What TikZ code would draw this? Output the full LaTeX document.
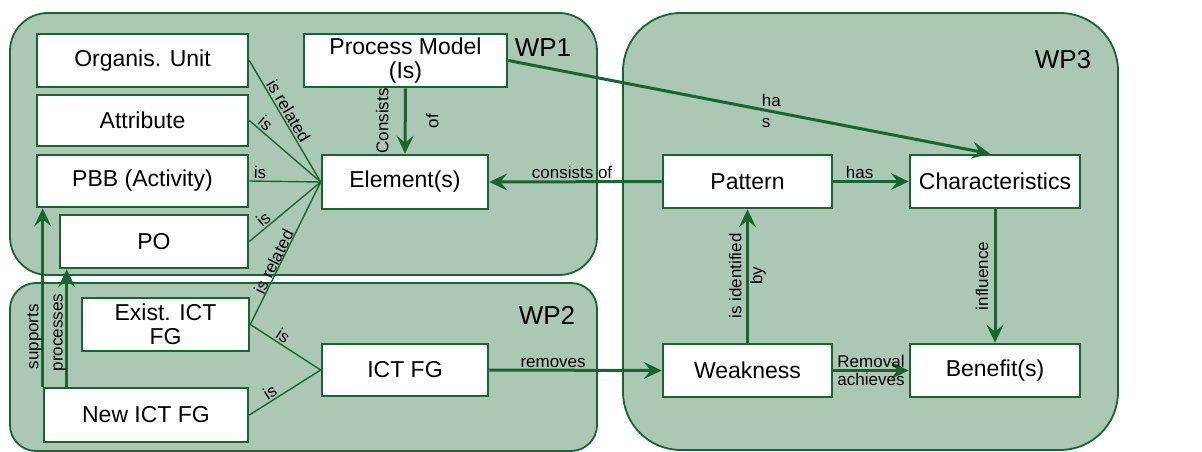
\documentclass[tikz,border=0pt]{standalone}
\usepackage{fontspec}
\setmainfont{Liberation Sans}
\usetikzlibrary{arrows.meta,calc}

\definecolor{wpgreen}{RGB}{25,100,48}
\definecolor{wpfill}{RGB}{171,200,181}

\begin{document}
\begin{tikzpicture}[x=1pt, y=-1pt,
        wp/.style={draw=wpgreen, line width=1.8pt, fill=wpfill},
        wplabel/.style={font=\fontsize{26}{28}\selectfont},
        entity/.style={draw=wpgreen, line width=2.6pt, fill=white, inner sep=0pt,
            font=\fontsize{23}{24}\selectfont, align=center},
        rel/.style={draw=wpgreen, line width=3pt, -{Stealth[length=18pt, width=17pt, inset=7pt]}},
        isrel/.style={draw=wpgreen, line width=1.4pt},
        lbl/.style={font=\fontsize{17}{21}\selectfont, inner sep=1.5pt}]
    \useasboundingbox (0,0) rectangle (1202,452);

    % Work packages
    \draw [wp, rounded corners=38pt] (10,13) rectangle (597,275);
    \draw [wp, rounded corners=26pt] (10,283) rectangle (597,451);
    \draw [wp, rounded corners=58pt] (623,13) rectangle (1118,450);
    \node [wplabel] (wp1) at (543,48) {WP1};
    \node [wplabel] (wp2) at (547,315) {WP2};
    \node [wplabel] (wp3) at (1063,60) {WP3};

    % WP1
    \node [entity, minimum width=211pt, minimum height=53pt] (orgunit) at (142.5,60.5) {Organis. Unit};
    \node [entity, minimum width=211pt, minimum height=51pt] (attribute) at (142.5,120.5) {Attribute};
    \node [entity, minimum width=211pt, minimum height=52pt] (pbb) at (142.5,181) {PBB (Activity)};
    \node [entity, minimum width=188pt, minimum height=53pt] (po) at (154,241.5) {PO};
    \node [entity, minimum width=203pt, minimum height=53pt] (procmodel) at (405.5,60.5) {Process Model\\(Is)};
    \node [entity, minimum width=166pt, minimum height=54pt] (element) at (405,182) {Element(s)};

    % WP2
    \node [entity, minimum width=167pt, minimum height=53pt] (existict) at (165.5,324.5) {Exist. ICT\\FG};
    \node [entity, minimum width=204pt, minimum height=54pt] (newict) at (146,415) {New ICT FG};
    \node [entity, minimum width=166pt, minimum height=52pt] (ictfg) at (405,370) {ICT FG};

    % WP3
    \node [entity, minimum width=169pt, minimum height=53pt] (pattern) at (747.5,181.5) {Pattern};
    \node [entity, minimum width=170pt, minimum height=53pt] (charact) at (995,181.5) {Characteristics};
    \node [entity, minimum width=169pt, minimum height=53pt] (weakness) at (747.5,370.5) {Weakness};
    \node [entity, minimum width=170pt, minimum height=53pt] (benefit) at (995,370.5) {Benefit(s)};

    % Kinds of elements
    \draw [isrel] (orgunit.east) -- node[lbl, sloped, above, pos=.45] {is related} (element.west);
    \foreach \src/\p in {attribute/.15, pbb/.15, po/.27}
    {
        \draw [isrel] (\src.east) -- node[lbl, sloped, above, pos=\p] {is} (element.west);
    }
    \draw [isrel] (element.west) -- node[lbl, sloped, above, inner sep=0pt, pos=.58] {is related} (existict.east);
    \draw [isrel] (existict.east) -- node[lbl, sloped, above, pos=.4] {is} (ictfg.west);
    \draw [isrel] (newict.east) -- node[lbl, sloped, above, pos=.35] {is} (ictfg.west);

    % Relations
    \draw [rel] (procmodel.south) -- node[lbl, xshift=-23pt, rotate=90] {Consists}
        node[lbl, xshift=27pt, rotate=90] {of} (element.north);
    \draw [rel] (pattern.west) -- node[lbl, above, pos=.52] {consists of} (element.east);
    \draw [rel] (procmodel.east) -- node[lbl, align=left, pos=.54, xshift=3pt] {ha\\s} ($(charact.north)+(-5,0)$);
    \draw [rel] (pattern.east) -- node[lbl, above, pos=.35] {has} (charact.west);
    \draw [rel] (charact.south) -- node[lbl, xshift=-13pt, rotate=90] {influence} (benefit.north);
    \draw [rel] (weakness.north) -- node[lbl, rotate=90, align=center] {is identified\\by} (pattern.south);
    \draw [rel] (weakness.east) -- node[lbl, above] {Removal} node[lbl, below] {achieves} (benefit.west);
    \draw [rel] (ictfg.east) -- node[lbl, above, pos=.37] {removes} (weakness.west);

    % New ICT FG
    \coordinate (sup) at (newict.north west);
    \coordinate (proc) at ($(newict.north west)+(24,0)$);
    \draw [rel] (sup) -- node[lbl, pos=.28, xshift=-8pt, rotate=90] {supports} (sup |- pbb.south);
    \draw [rel] (proc) -- node[lbl, pos=.46, xshift=-7pt, rotate=90] {processes} (proc |- po.south);
\end{tikzpicture}
\end{document}
